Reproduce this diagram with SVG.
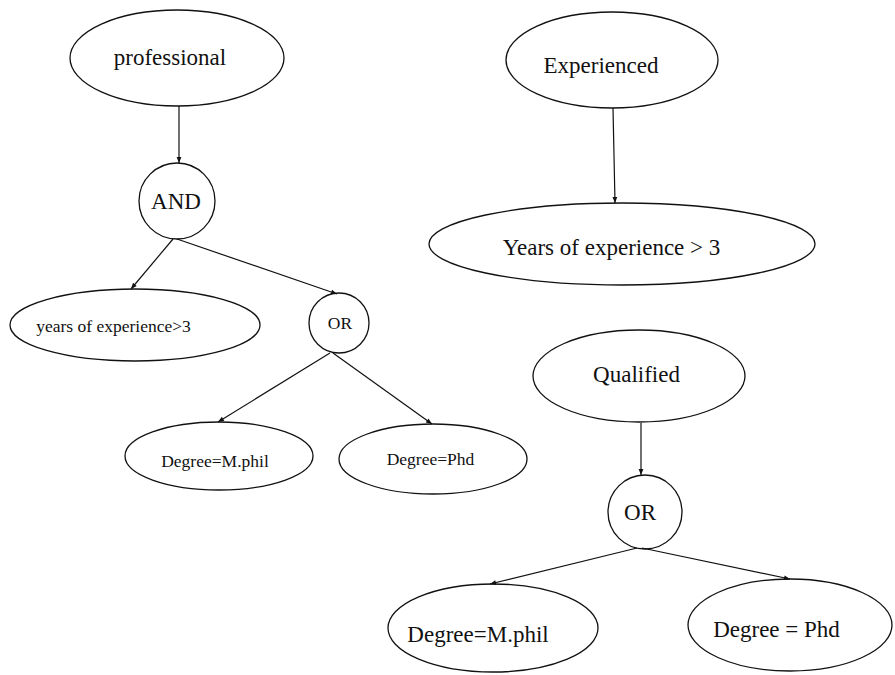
<svg xmlns="http://www.w3.org/2000/svg" width="895" height="675" viewBox="0 0 895 675">
  <style>
    .shape { fill: none; stroke: #111; stroke-width: 1.3; }
    .edge { fill: none; stroke: #111; stroke-width: 1.2; marker-end: url(#arrow); }
    .big { font-family: "Liberation Serif", "Times New Roman", serif; font-size: 23px; fill: #111; text-anchor: middle; }
    .small { font-family: "Liberation Serif", "Times New Roman", serif; font-size: 17.5px; fill: #111; text-anchor: middle; }
  </style>
  <defs>
    <marker id="arrow" viewBox="0 0 10 10" refX="10" refY="5" markerWidth="8" markerHeight="6" markerUnits="userSpaceOnUse" orient="auto">
      <path d="M0,1 L10,5 L0,9 Z" fill="#111"/>
    </marker>
  </defs>
  <rect width="895" height="675" fill="#fff"/>

  <!-- connectors -->
  <g id="connectors">
    <line class="edge" x1="179" y1="106" x2="179" y2="163"/>
    <line class="edge" x1="173" y1="239" x2="131" y2="289"/>
    <line class="edge" x1="177" y1="239" x2="337" y2="294"/>
    <line class="edge" x1="330" y1="353" x2="218" y2="422"/>
    <line class="edge" x1="333" y1="353" x2="432" y2="424"/>
    <line class="edge" x1="613" y1="108" x2="615" y2="203"/>
    <line class="edge" x1="641" y1="423" x2="641" y2="475"/>
    <line class="edge" x1="637" y1="548" x2="490" y2="584"/>
    <line class="edge" x1="642" y1="548" x2="790" y2="579"/>
  </g>

  <!-- professional tree -->
  <g id="professional">
    <ellipse class="shape" cx="177" cy="58" rx="107" ry="48"/>
    <text class="big" x="170" y="65">professional</text>
  </g>
  <g id="and1">
    <circle class="shape" cx="177" cy="201" r="38"/>
    <text class="big" x="176" y="209">AND</text>
  </g>
  <g id="years-small">
    <ellipse class="shape" cx="135" cy="325" rx="125" ry="36"/>
    <text class="small" x="113.5" y="332">years of experience&gt;3</text>
  </g>
  <g id="or1">
    <circle class="shape" cx="339" cy="323" r="30"/>
    <text class="small" x="340" y="329">OR</text>
  </g>
  <g id="mphil-small">
    <ellipse class="shape" cx="219" cy="456" rx="94" ry="34"/>
    <text class="small" x="215" y="467">Degree=M.phil</text>
  </g>
  <g id="phd-small">
    <ellipse class="shape" cx="433" cy="459" rx="94" ry="35"/>
    <text class="small" x="430.5" y="465">Degree=Phd</text>
  </g>

  <!-- experienced tree -->
  <g id="experienced">
    <ellipse class="shape" cx="612" cy="60" rx="106" ry="48"/>
    <text class="big" x="601" y="73">Experienced</text>
  </g>
  <g id="years-big">
    <ellipse class="shape" cx="622" cy="244" rx="193" ry="41"/>
    <text class="big" x="611.5" y="255">Years of experience &gt; 3</text>
  </g>

  <!-- qualified tree -->
  <g id="qualified">
    <ellipse class="shape" cx="639" cy="376" rx="106" ry="46"/>
    <text class="big" x="636.5" y="382">Qualified</text>
  </g>
  <g id="or2">
    <circle class="shape" cx="645" cy="512" r="37"/>
    <text class="big" x="640" y="520">OR</text>
  </g>
  <g id="mphil-big">
    <ellipse class="shape" cx="493" cy="628" rx="105" ry="44"/>
    <text class="big" x="478" y="642">Degree=M.phil</text>
  </g>
  <g id="phd-big">
    <ellipse class="shape" cx="790" cy="625" rx="102" ry="46"/>
    <text class="big" x="776.5" y="637">Degree = Phd</text>
  </g>
</svg>
